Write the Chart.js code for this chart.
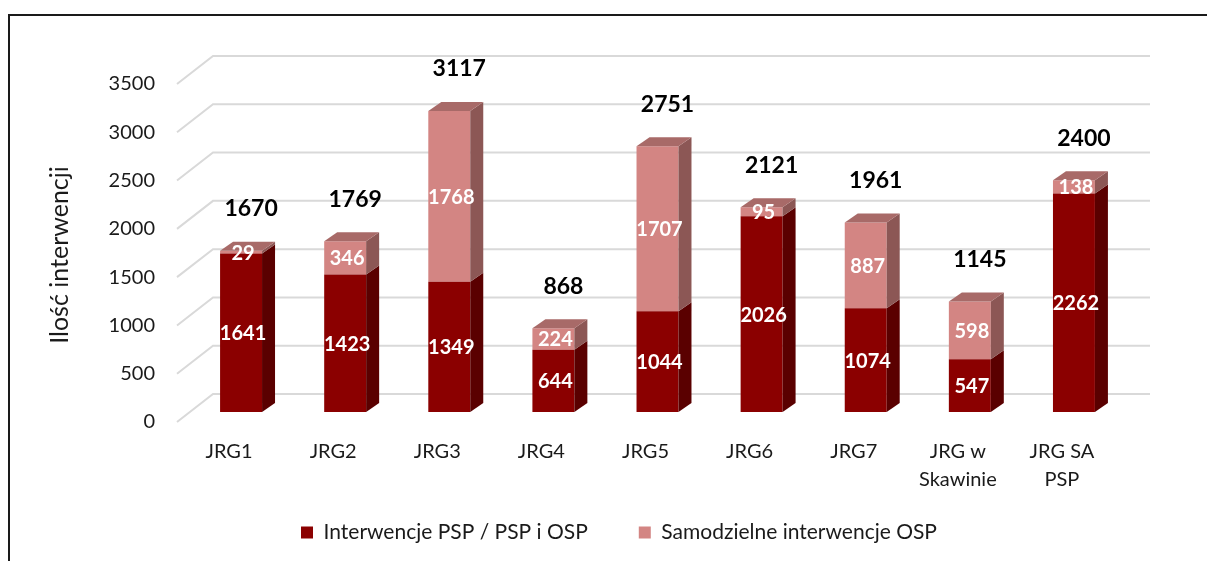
<!DOCTYPE html>
<html>
<head>
<meta charset="utf-8">
<script src="https://cdn.jsdelivr.net/npm/chart.js@4/dist/chart.umd.min.js"></script>
<style>
  html, body { margin: 0; padding: 0; background: #fff; }
  #wrap { width: 1207px; height: 561px; position: relative; }
</style>
</head>
<body>
<div id="wrap"><canvas id="c" width="1207" height="561"></canvas></div>
<script>
// ---- data ----
const categories = ['JRG1', 'JRG2', 'JRG3', 'JRG4', 'JRG5', 'JRG6', 'JRG7', ['JRG w', 'Skawinie'], ['JRG SA', 'PSP']];
const pspValues = [1641, 1423, 1349, 644, 1044, 2026, 1074, 547, 2262];
const ospValues = [29, 346, 1768, 224, 1707, 95, 887, 598, 138];
const totals = [1670, 1769, 3117, 868, 2751, 2121, 1961, 1145, 2400];
const seriesNames = ['Interwencje PSP / PSP i OSP', 'Samodzielne interwencje OSP'];
const yTicks = [0, 500, 1000, 1500, 2000, 2500, 3000, 3500];
const yTitle = 'Ilość interwencji';

// ---- style ----
const FONT = 'Lato, "Open Sans", sans-serif';
const DEPTH_X = 13, DEPTH_Y = 9;       // bar depth
const WALL_X = 24, WALL_Y = 18;        // back wall offset from bar front plane
const FRONT_X = -12, FRONT_Y = 10;     // axis front plane offset
const LEGEND_PAD_BOTTOM = 8;
const faceColors = [
  { front: '#8b0000', side: '#5a0000', top: '#7a1414' },
  { front: '#d38583', side: '#8c5755', top: '#a86a68' }
];

const threeD = {
  id: 'threeD',
  beforeDraw(chart) {
    const ctx = chart.ctx;
    ctx.save();
    ctx.strokeStyle = '#1a1a1a';
    ctx.lineWidth = 2;
    ctx.beginPath();
    ctx.moveTo(9, 561);
    ctx.lineTo(9, 15);
    ctx.lineTo(1207, 15);
    ctx.stroke();
    ctx.restore();
  },
  beforeDatasetsDraw(chart) {
    const ctx = chart.ctx;
    const ys = chart.scales.y;
    const area = chart.chartArea;
    ctx.save();
    ctx.strokeStyle = '#d9d9d9';
    ctx.lineWidth = 2;
    yTicks.forEach(v => {
      const py = ys.getPixelForValue(v);
      ctx.beginPath();
      ctx.moveTo(area.left + FRONT_X, py + FRONT_Y);
      ctx.lineTo(area.left + WALL_X, py - WALL_Y);
      ctx.lineTo(area.right + WALL_X, py - WALL_Y);
      ctx.stroke();
    });
    ctx.restore();
  },
  afterDatasetsDraw(chart) {
    const ctx = chart.ctx;
    ctx.save();
    const nDs = chart.data.datasets.length;
    for (let d = 0; d < nDs; d++) {
      const meta = chart.getDatasetMeta(d);
      meta.data.forEach((bar) => {
        const p = bar.getProps(['x', 'y', 'base', 'width'], true);
        const left = p.x - p.width / 2, right = p.x + p.width / 2;
        const top = Math.min(p.y, p.base), bottom = Math.max(p.y, p.base);
        ctx.fillStyle = faceColors[d].side;
        ctx.beginPath();
        ctx.moveTo(right, top);
        ctx.lineTo(right + DEPTH_X, top - DEPTH_Y);
        ctx.lineTo(right + DEPTH_X, bottom - DEPTH_Y);
        ctx.lineTo(right, bottom);
        ctx.closePath();
        ctx.fill();
        if (d === nDs - 1) {
          ctx.fillStyle = faceColors[d].top;
          ctx.beginPath();
          ctx.moveTo(left, top);
          ctx.lineTo(left + DEPTH_X, top - DEPTH_Y);
          ctx.lineTo(right + DEPTH_X, top - DEPTH_Y);
          ctx.lineTo(right, top);
          ctx.closePath();
          ctx.fill();
        }
      });
    }
    // segment labels
    ctx.fillStyle = '#ffffff';
    ctx.font = 'bold 20px ' + FONT;
    ctx.textAlign = 'center';
    ctx.textBaseline = 'middle';
    for (let d = 0; d < nDs; d++) {
      const meta = chart.getDatasetMeta(d);
      const vals = chart.data.datasets[d].data;
      meta.data.forEach((bar, i) => {
        const p = bar.getProps(['x', 'y', 'base'], true);
        ctx.fillText(String(vals[i]), p.x + 2, (p.y + p.base) / 2 + 1);
      });
    }
    // totals
    ctx.fillStyle = '#000000';
    ctx.font = 'bold 23px ' + FONT;
    const topMeta = chart.getDatasetMeta(nDs - 1);
    topMeta.data.forEach((bar, i) => {
      const p = bar.getProps(['x', 'y'], true);
      ctx.fillText(String(totals[i]), p.x + 10, p.y - 42);
    });
    // y title
    ctx.fillStyle = '#1a1a1a';
    ctx.font = '25px ' + FONT;
    ctx.translate(60, 255);
    ctx.rotate(-Math.PI / 2);
    ctx.fillText(yTitle, 0, 0);
    ctx.restore();
  }
};

new Chart(document.getElementById('c'), {
  type: 'bar',
  data: {
    labels: categories,
    datasets: [
      { label: seriesNames[0], data: pspValues, backgroundColor: faceColors[0].front, borderWidth: 0 },
      { label: seriesNames[1], data: ospValues, backgroundColor: faceColors[1].front, borderWidth: 0 }
    ]
  },
  options: {
    responsive: false,
    animation: false,
    events: [],
    layout: { padding: { left: 31, right: 0, top: 74, bottom: LEGEND_PAD_BOTTOM } },
    datasets: { bar: { barPercentage: 0.403, categoryPercentage: 1 } },
    plugins: {
      tooltip: { enabled: false },
      legend: {
        position: 'bottom',
        labels: {
          boxWidth: 12, boxHeight: 12, padding: 30,
          color: '#1a1a1a',
          font: { family: FONT, size: 21 },
          generateLabels(chart) {
            const items = Chart.defaults.plugins.legend.labels.generateLabels(chart);
            // wider gap after the first entry
            items[0].text = items[0].text + '\u2002\u2002';
            return items;
          }
        }
      }
    },
    scales: {
      x: {
        stacked: true,
        grid: { display: false, drawTicks: false },
        border: { display: false },
        ticks: {
          autoSkip: false, maxRotation: 0, minRotation: 0,
          padding: 26, labelOffset: -12,
          color: '#1a1a1a',
          font: { family: FONT, size: 20, lineHeight: 1.4 }
        },
        afterFit(scale) {
          const lh = scale.chart.legend ? scale.chart.legend.height : 61;
          scale.height = 561 - LEGEND_PAD_BOTTOM - lh - 412;
        }
      },
      y: {
        stacked: true,
        min: 0, max: 3500,
        grid: { display: false, drawTicks: false },
        border: { display: false },
        ticks: {
          stepSize: 500, padding: 34, labelOffset: 10,
          color: '#1a1a1a',
          font: { family: FONT, size: 20 },
          callback: (v) => String(v)
        },
        afterFit(scale) { scale.width = 158; }
      },
      yRight: {
        position: 'right',
        min: 0, max: 1,
        grid: { display: false, drawTicks: false },
        border: { display: false },
        ticks: { display: false },
        afterFit(scale) { scale.width = 81; }
      }
    }
  },
  plugins: [threeD]
});
</script>
</body>
</html>
